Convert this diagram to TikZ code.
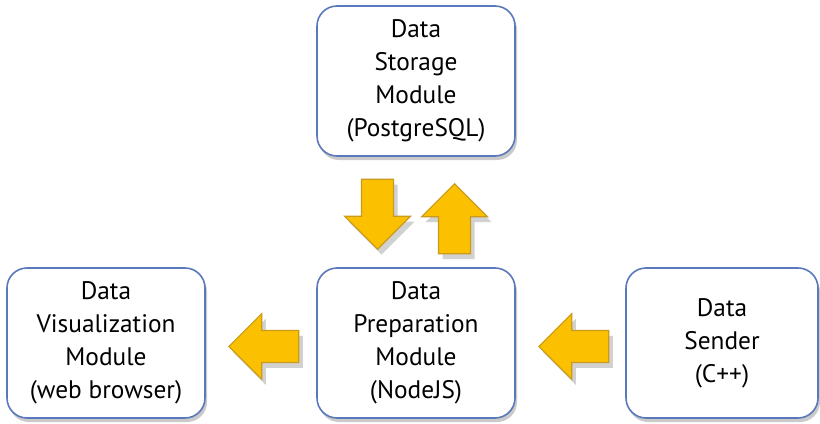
\documentclass[tikz,border=0pt]{standalone}
\usepackage{fontspec}
\setmainfont{PT Sans}
\usepackage{xcolor}
\usepackage{tikz}
\usetikzlibrary{shapes.arrows,shadows}
\definecolor{boxline}{HTML}{5A78BC}
\definecolor{arrowfill}{HTML}{FBC100}
\definecolor{arrowline}{HTML}{C99A1C}

\tikzset{
  module/.style={draw=boxline,line width=1.2pt,fill=white,rounded corners=15pt,
    minimum width=148.5pt,minimum height=112.5pt,align=center,
    font=\fontsize{19pt}{24.75pt}\selectfont,
    drop shadow={shadow xshift=1.5pt,shadow yshift=-3pt,opacity=0.35,fill=black!60}},
  flow/.style={single arrow,draw=arrowline,line width=0.8pt,fill=arrowfill,
    inner sep=11.6pt,minimum height=52.5pt,single arrow head extend=12.75pt,anchor=tip,
    drop shadow={shadow xshift=3pt,shadow yshift=-4pt,opacity=0.3,fill=black!60}}
}

\begin{document}
\begin{tikzpicture}[x=0.75pt,y=-0.75pt]
  \useasboundingbox (0,0) rectangle (820,424);
  % modules
  \node[module] (storage) at (416,81) {Data\\Storage\\Module\\(PostgreSQL)};
  \node[module] (prep) at (416,343) {Data\\Preparation\\Module\\(NodeJS)};
  \node[module] (vis) at (106,343) {Data\\Visualization\\Module\\(web browser)};
  \node[module,minimum width=144pt] (sender) at (722,343) {Data\\Sender\\(C++)};
  % block arrows
  \node[flow,shape border rotate=270] (down) at (377.5,250) {};
  \node[flow,shape border rotate=90] (up) at (454.5,183) {};
  \node[flow,shape border rotate=180] (toleft) at (228,346.5) {};
  \node[flow,shape border rotate=180] (toprep) at (538,346.5) {};
\end{tikzpicture}
\end{document}
